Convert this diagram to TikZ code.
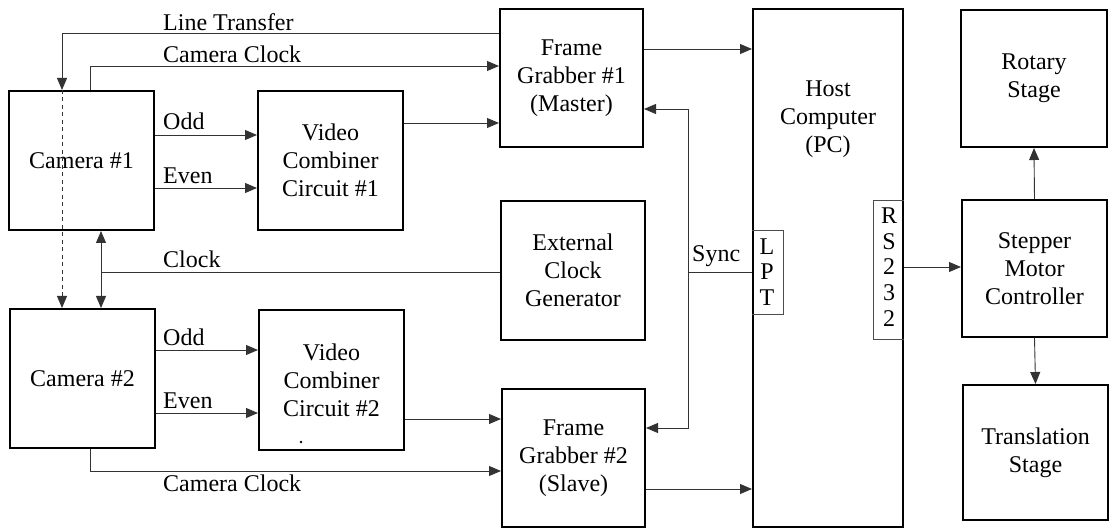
\documentclass[tikz,border=0pt]{standalone}
\usepackage{fontspec}
\setmainfont{Liberation Serif}
\usetikzlibrary{arrows.meta}
\newcommand{\diagfont}{\rmfamily\fontsize{24}{28}\selectfont}
\begin{document}
\begin{tikzpicture}[x=1pt,y=-1pt,
  font=\diagfont,
  block/.style={draw, line width=2pt, inner sep=0pt, align=center, font=\diagfont},
  conn/.style={line width=0.9pt, draw=black!80},
  arr/.style={conn, -{Triangle[length=12pt,width=10pt]}},
  arrboth/.style={conn, {Triangle[length=12pt,width=10pt]}-{Triangle[length=12pt,width=10pt]}},
  lbl/.style={anchor=base west, inner sep=0pt, font=\diagfont},
  port/.style={line width=0.7pt, draw=black!70},
  portlbl/.style={inner sep=0pt, align=center, font=\rmfamily\fontsize{24}{25.8}\selectfont}]
\useasboundingbox (0,0) rectangle (1114,529);

% functional blocks
\node[block, minimum width=145pt, minimum height=139pt] (cam1) at (81.5,160.5) {Camera \#1};
\node[block, minimum width=145pt, minimum height=139pt] (cam2) at (82.5,378.5) {Camera \#2};
\node[block, minimum width=145pt, minimum height=139pt] (vcc1) at (330.5,160.5) {Video\\Combiner\\Circuit \#1};
\node[block, minimum width=145pt, minimum height=140pt] (vcc2) at (331.5,380) {Video\\Combiner\\Circuit \#2};
\node[block, minimum width=143pt, minimum height=138pt] (fg1) at (571.5,78) {Frame\\Grabber \#1\\(Master)};
\node[block, minimum width=144pt, minimum height=139pt] (clk) at (573,270.5) {External\\Clock\\Generator};
\node[block, minimum width=143pt, minimum height=138pt] (fg2) at (573.5,458) {Frame\\Grabber \#2\\(Slave)};
\node[block, minimum width=150pt, minimum height=518pt] (host) at (828,268) {};
\node[inner sep=0pt, align=center, font=\diagfont] (hosttxt) at (828,119) {Host\\Computer\\(PC)};
\node[block, minimum width=146pt, minimum height=137pt] (rot) at (1034,78.5) {Rotary\\Stage};
\node[block, minimum width=145pt, minimum height=137pt] (step) at (1034.5,268.5) {Stepper\\Motor\\Controller};
\node[block, minimum width=145pt, minimum height=135pt] (trans) at (1035.5,452.5) {Translation\\Stage};

% ports on the host computer
\draw[port] (host.west |- 0,230) -| (783,314) -- (host.west |- 0,314);
\node[portlbl] (lpt) at (767,272) {L\\P\\T};
\draw[port] (host.east |- 0,200) -| (873,339) -- (host.east |- 0,339);
\node[portlbl] (rs) at (889,267) {R\\S\\2\\3\\2};

% line transfer from frame grabber #1 to the cameras
\coordinate (lt) at (62,33);
\draw[arr] (fg1.west |- lt) -- (lt) -- (cam1.north -| lt);
\draw[arr, dash pattern=on 4pt off 3.5pt] (cam1.north -| lt) -- (cam2.north -| lt);
\node[lbl] (ltl) at (163,31) {Line Transfer};

% camera clocks
\coordinate (cc1) at (90,66);
\draw[arr] (cam1.north -| cc1) |- (fg1.west |- cc1);
\node[lbl] (cc1l) at (163,63) {Camera Clock};
\coordinate (cc2) at (90,471);
\draw[arr] (cam2.south -| cc2) |- (fg2.west |- cc2);
\node[lbl] (cc2l) at (163,491) {Camera Clock};

% odd / even fields
\draw[arr] (cam1.east |- 0,135) -- (vcc1.west |- 0,135);
\node[lbl] (odd1) at (163,130) {Odd};
\draw[arr] (cam1.east |- 0,188) -- (vcc1.west |- 0,188);
\node[lbl] (even1) at (163,184) {Even};
\draw[arr] (cam2.east |- 0,350) -- (vcc2.west |- 0,350);
\node[lbl] (odd2) at (163,345) {Odd};
\draw[arr] (cam2.east |- 0,413) -- (vcc2.west |- 0,413);
\node[lbl] (even2) at (163,408) {Even};

% video to the frame grabbers
\draw[arr] (vcc1.east |- 0,123) -- (fg1.west |- 0,123);
\draw[arr] (vcc2.east |- 0,419) -- (fg2.west |- 0,419);

% external clock
\coordinate (ck) at (101,272);
\draw[conn] (clk.west |- ck) -- (ck);
\draw[arrboth] (cam1.south -| ck) -- (cam2.north -| ck);
\node[lbl] (ckl) at (163,268) {Clock};

% frame grabbers to host
\draw[arr] (fg1.east |- 0,49) -- (host.west |- 0,49);
\draw[arr] (fg2.east |- 0,489) -- (host.west |- 0,489);

% sync from the parallel port
\coordinate (sy) at (688,272);
\draw[conn] (host.west |- sy) -- (sy);
\draw[arr] (sy) |- (fg1.east |- 0,109);
\draw[arr] (sy) |- (fg2.east |- 0,428);
\node[lbl] (syl) at (692,262) {Sync};

% motion control
\draw[arr] (host.east |- 0,267) -- (step.west |- 0,267);
\draw[arr] (step.north) -- (rot.south);
\draw[arr] (step.south) -- (trans.north);

% small mark
\fill (301,442) circle (1.3pt);
\end{tikzpicture}
\end{document}
